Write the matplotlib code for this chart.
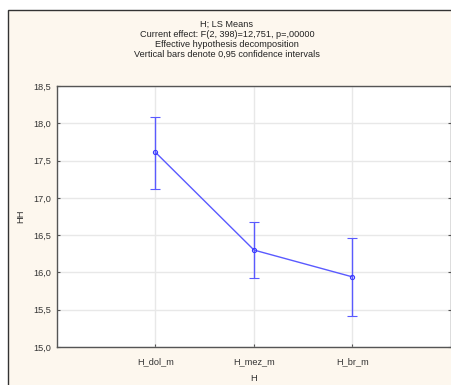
import matplotlib
matplotlib.use("Agg")
import matplotlib.pyplot as plt
from matplotlib.patches import Rectangle

# LS means with 95% confidence limits
categories = ["H_dol_m", "H_mez_m", "H_br_m"]
means = [17.61, 16.30, 15.94]
ci_lower = [17.12, 15.93, 15.42]
ci_upper = [18.09, 16.68, 16.46]
y_ticks = [15.0, 15.5, 16.0, 16.5, 17.0, 17.5, 18.0, 18.5]
title_lines = ["H; LS Means",
               "Current effect: F(2, 398)=12,751, p=,00000",
               "Effective hypothesis decomposition",
               "Vertical bars denote 0,95 confidence intervals"]

plt.rcParams['font.family'] = ['Liberation Sans', 'DejaVu Sans']

fig = plt.figure(figsize=(4.52, 3.85), dpi=100)
fig.patch.set_facecolor('white')

# cream panel with dark border (runs off the right/bottom edge)
panel = Rectangle((8 / 452, -0.05), 1.0, (385 - 10) / 385 + 0.05,
                  transform=fig.transFigure, facecolor='#fdf7ee',
                  edgecolor='#333333', linewidth=1.0, zorder=-5)
fig.patches.append(panel)

ax = fig.add_axes([57 / 452, (385 - 347) / 385, (451 - 57) / 452, (347 - 86) / 385])
ax.set_facecolor('white')

x = [1, 2, 3]
yerr = [[m - lo for m, lo in zip(means, ci_lower)],
        [hi - m for m, hi in zip(means, ci_upper)]]
ax.errorbar(x, means, yerr=yerr, color='#5a5aff', linewidth=1.0,
            elinewidth=1.0, capsize=3.6, capthick=1.0,
            marker='o', markersize=3, markerfacecolor='none',
            markeredgecolor='#3a3aff', markeredgewidth=0.8, zorder=3)

ax.set_xlim(0, 4)
ax.set_ylim(15.0, 18.5)
ax.set_xticks(x)
ax.set_xticklabels(categories)
ax.set_yticks(y_ticks)
ax.set_yticklabels([f"{v:.1f}".replace('.', ',') for v in y_ticks])

ax.grid(True, color='#e8e8e8', linewidth=1.0)
ax.set_axisbelow(True)
for s in ax.spines.values():
    s.set_color('#555555')
    s.set_linewidth(1.0)
ax.tick_params(axis='both', direction='in', length=2, width=0.8,
               colors='#555555', labelcolor='#333333', labelsize=6.6,
               right=True)
ax.tick_params(axis='x', pad=7)
ax.tick_params(axis='y', pad=4)

ax.set_xlabel("H", fontsize=6.8, color='#333333', labelpad=6)
ax.set_ylabel("HH", fontsize=6.8, color='#333333', labelpad=6)

for i, line in enumerate(title_lines):
    fig.text(227 / 452, 1 - (24 + 10.2 * i) / 385, line, ha='center',
             va='center', fontsize=6.6, color='#222222')

fig.savefig("out.png", dpi=100, facecolor=fig.get_facecolor())
